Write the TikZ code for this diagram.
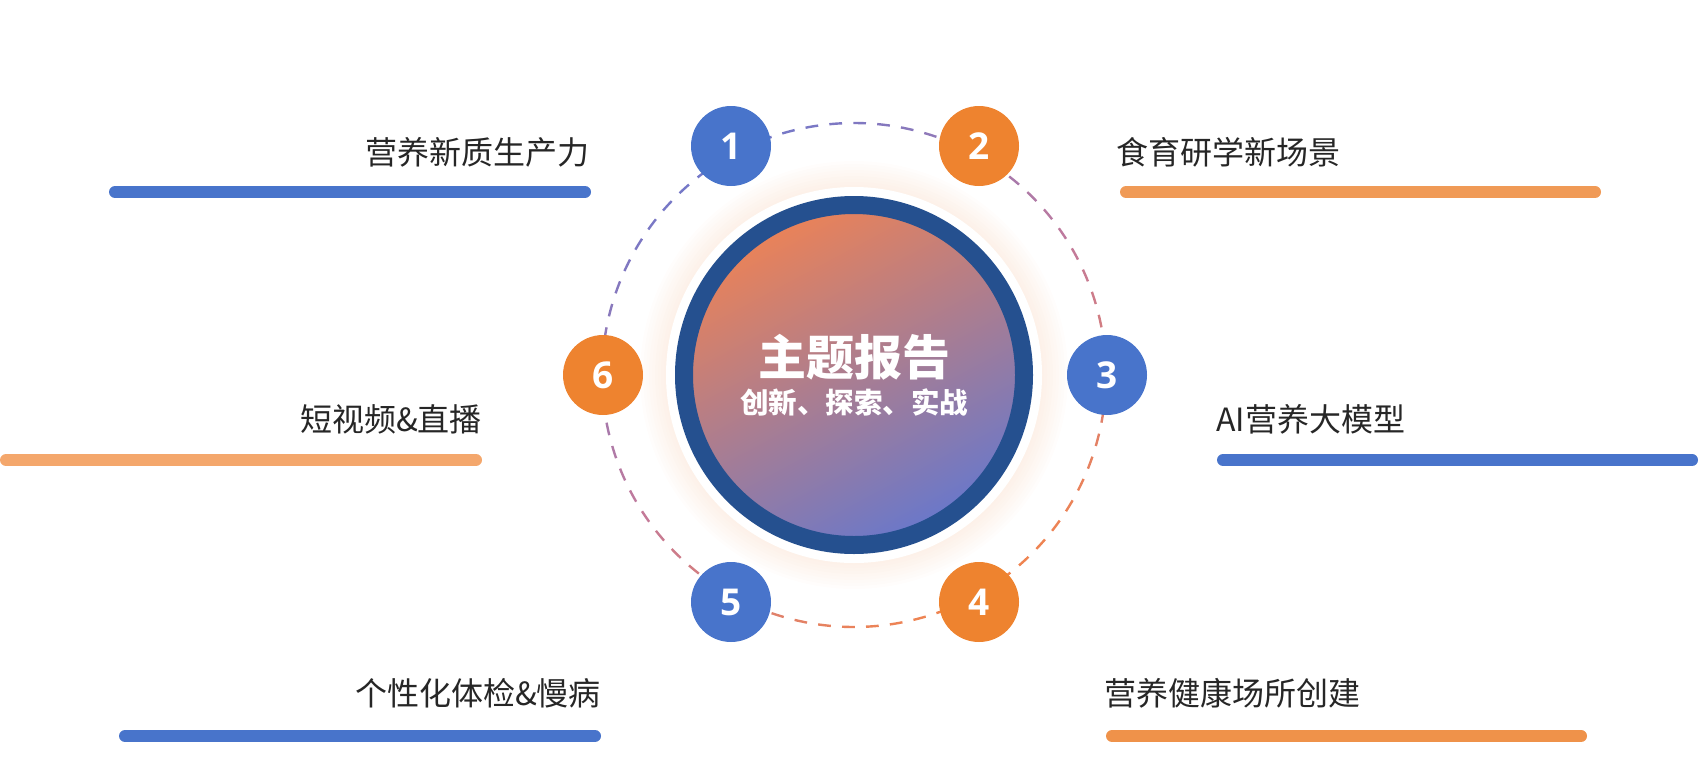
\documentclass[tikz,border=0pt]{standalone}
\usepackage{fontspec}
\newfontfamily\cjk{Noto Sans CJK SC}
\newfontfamily\numfont{Open Sans}
\definecolor{nblue}{HTML}{4874CB}
\definecolor{norange}{HTML}{EE832F}
\definecolor{ringblue}{HTML}{25508F}
\definecolor{barblue}{HTML}{4874CB}
\definecolor{bartwo}{HTML}{F09A56}
\definecolor{barsix}{HTML}{F4A76C}
\definecolor{barfour}{HTML}{EF924A}
\definecolor{txt}{HTML}{262626}
\definecolor{dpurple}{HTML}{7478C8}
\definecolor{dpink}{HTML}{C27A9C}
\definecolor{dorange}{HTML}{F08450}
\definecolor{gtop}{HTML}{E8825A}
\definecolor{gmid}{HTML}{C87A92}
\definecolor{gbot}{HTML}{6C78C8}
\definecolor{glowc}{HTML}{F6C6A4}
\tikzset{
  numcirc/.style={circle, minimum size=80pt, inner sep=0pt, text=white, font=\numfont\bfseries\fontsize{37}{40}\selectfont},
  bluec/.style={numcirc, fill=nblue},
  orangec/.style={numcirc, fill=norange},
  lbl/.style={inner sep=0pt, text=txt, font=\cjk\fontsize{32}{36}\selectfont},
  bar/.style={line width=12pt, line cap=round},
}
\begin{document}
\begin{tikzpicture}[x=1pt,y=-1pt]
\useasboundingbox (0,0) rectangle (1699,779);
\coordinate (C) at (854,375);
% glow and halo
\foreach \r in {214,211,...,189} \fill[glowc, opacity=0.03] (C) circle[radius=\r pt];
\fill[white] (C) circle[radius=188pt];
% dashed ring with gradient colour
\foreach \i in {0,...,65}{
  \pgfmathsetmacro{\a}{5.454545*\i}
  \pgfmathsetmacro{\t}{(1-cos(\a-120))/2}
  \pgfmathsetmacro{\pa}{min(100,max(0,\t*200))}
  \pgfmathsetmacro{\pb}{min(100,max(0,(\t-0.5)*200))}
  \ifdim \t pt<0.5pt
    \colorlet{dc}{dpink!\pa!dpurple}
  \else
    \colorlet{dc}{dorange!\pb!dpink}
  \fi
  \draw[dc, line width=2.4pt] ([shift={(\a:252pt)}]C) arc[start angle=\a, delta angle=2.9, radius=252pt];
}
% centre disc
\shade[shading=axis, top color=gtop, middle color=gmid, bottom color=gbot, shading angle=28] (C) circle[radius=162pt];
\draw[ringblue, line width=18pt] (C) circle[radius=170pt];
\node[text=white, inner sep=0pt, font=\cjk\bfseries\fontsize{48}{52}\selectfont] (title) at (854,357) {主题报告};
\node[text=white, inner sep=0pt, font=\cjk\bfseries\fontsize{28.5}{32}\selectfont] (sub) at (854,402) {创新、探索、实战};
% number circles
\node[bluec] (n1) at (731,146) {1};
\node[orangec] (n2) at (979,146) {2};
\node[bluec] (n3) at (1107,375) {3};
\node[orangec] (n4) at (979,602) {4};
\node[bluec] (n5) at (731,602) {5};
\node[orangec] (n6) at (603,375) {6};
% bars
\coordinate (b1a) at (115,192); \coordinate (b1b) at (585,192);
\coordinate (b2a) at (1126,192); \coordinate (b2b) at (1595,192);
\coordinate (b3a) at (1223,460); \coordinate (b3b) at (1692,460);
\coordinate (b4a) at (1112,736); \coordinate (b4b) at (1581,736);
\coordinate (b5a) at (125,736); \coordinate (b5b) at (595,736);
\coordinate (b6a) at (6,460); \coordinate (b6b) at (476,460);
\draw[bar, barblue] (b1a) -- (b1b);
\draw[bar, bartwo] (b2a) -- (b2b);
\draw[bar, barblue] (b3a) -- (b3b);
\draw[bar, barfour] (b4a) -- (b4b);
\draw[bar, barblue] (b5a) -- (b5b);
\draw[bar, barsix] (b6a) -- (b6b);
% labels
\node[lbl, anchor=east] (t1) at (590,152) {营养新质生产力};
\node[lbl, anchor=west] (t2) at (1116,152) {食育研学新场景};
\node[lbl, anchor=west] (t3) at (1216,419) {AI营养大模型};
\node[lbl, anchor=west] (t4) at (1104,693) {营养健康场所创建};
\node[lbl, anchor=east] (t5) at (601,693) {个性化体检\&慢病};
\node[lbl, anchor=east] (t6) at (482,419) {短视频\&直播};
\end{tikzpicture}
\end{document}
